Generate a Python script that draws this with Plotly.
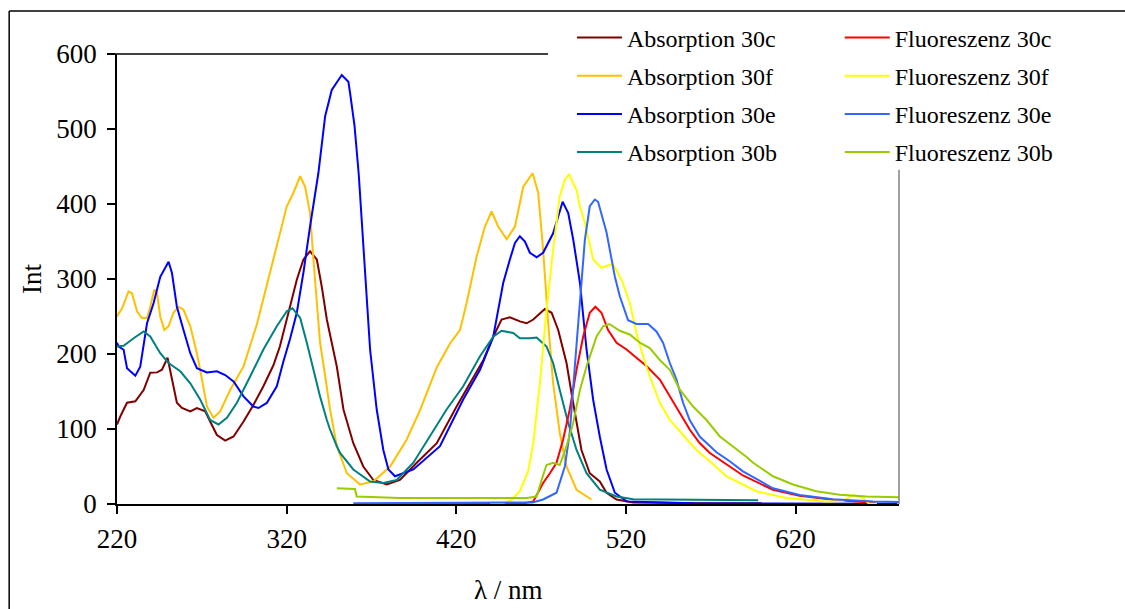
import plotly.graph_objects as go

# ---------------- data ----------------
abs_30c_nm = [220, 222, 225.9, 230.8, 235.7, 239.6, 243.6, 246.5, 249.8, 252.4, 255.3, 258.3, 263.2, 267.1,
              272, 274.9, 278.9, 283.8, 288.7, 294.6, 300.4, 306.3, 312.2, 316, 320.1, 326, 329.9, 333.8,
              337.8, 340.7, 343.7, 346.5, 349.6, 353.5, 359.3, 365.2, 371.1, 379, 386.8, 396.7, 408.5,
              420.2, 428.1, 436, 441.8, 446.7, 451.6, 457.5, 461.5, 465.4, 472.2, 476.2, 480.1, 485,
              488.9, 493.8, 498.7, 504.6, 508.6, 514.5, 524.3, 560, 600]
abs_30c_int = [106, 117, 135, 137, 152, 175, 175.5, 179, 195, 166, 135, 128, 123.5, 128,
               123.5, 110, 92, 84.5, 90, 110, 132, 157, 185, 210, 245, 299, 326, 337,
               326, 290, 246, 215, 183, 126, 81, 50, 32, 26, 32, 55, 81,
               130, 161, 192, 223, 246, 249, 243.5, 241, 246, 260, 255, 232, 188,
               135, 72, 41, 30, 15, 6, 2, 1, 1]

abs_30f_nm = [220, 223, 226.8, 228.8, 231.8, 234.7, 237.7, 239.6, 242, 243.6, 245.5, 247.9, 250.4, 253.3,
              256.3, 259.2, 263.2, 267.1, 270.1, 273, 276.9, 280.8, 286.7, 294.6, 302.5, 307.3, 312.2,
              316.2, 320.1, 324, 328, 330.9, 333.8, 335.8, 337.8, 339.7, 341.3, 345.6, 349.6, 355.5,
              363.3, 371.1, 381, 386.8, 390.8, 398.6, 408.5, 416.3, 422.2, 426.1, 432, 436.9, 440.8,
              444.7, 449.7, 454.6, 459.5, 465, 468.3, 471.2, 474.2, 477.1, 481, 485, 490.9, 499.7]
abs_30f_int = [250, 261, 283.5, 281, 257, 248, 248, 263, 286, 281, 250, 232, 237, 255,
               263, 259, 237, 201, 166, 130, 115, 123.5, 152, 183.5, 240, 282, 326,
               361, 397, 415, 437, 423, 388, 326, 272, 215, 192, 126, 77, 41,
               26, 30, 50, 72, 86, 125, 182, 214, 232, 268, 330, 370, 390,
               370, 353, 370, 423, 441, 415, 339, 241, 161, 95, 50, 19, 6]

abs_30e_nm = [220, 221, 223.9, 225.9, 230.8, 233.7, 237.7, 241.6, 245.5, 250.4, 252.4, 255.3, 259.2,
              263.2, 267.1, 273, 278.9, 283.8, 288.7, 294.6, 300.4, 303.4, 308.3, 314.2, 318.1, 322,
              326, 330, 333.8, 338.7, 342.7, 346.6, 352.5, 356.4, 357.4, 360, 362.5, 365.2, 367.2,
              369.2, 373.1, 377, 380, 383.9, 394.7, 410.4, 424, 434, 441.8, 445.7, 447.7, 451.6,
              454.6, 457.5, 460.5, 463.4, 467.4, 471.2, 477.1, 482.7, 486, 489, 492.9, 496.8, 500.7,
              504.6, 508.6, 513.5, 520.4, 560, 600, 680]
abs_30e_int = [215, 210, 205.7, 181, 171, 183, 241, 268, 303, 323, 308, 263, 232,
               201, 181, 175.5, 177, 172, 163.5, 143.5, 130, 128, 134.7, 157, 190, 220,
               255, 310, 370, 441, 517, 552, 572, 563, 548, 505, 440, 340, 265,
               206, 126, 72, 46, 37, 46, 77, 139, 179, 223, 272, 295, 326,
               348, 357, 350, 335, 329, 335, 361, 403, 388, 352, 295, 206, 139,
               90, 46, 15, 3.5, 1, 1, 0.5]

abs_30b_nm = [220, 223.9, 229.8, 235.7, 239.6, 245.5, 250.4, 257.3, 263.2, 269.1, 274.9, 279.8, 284.8,
              290.7, 298.5, 306.3, 314.2, 320.1, 323.4, 328, 331.9, 335.8, 339.7, 343.7, 345.6, 349.6,
              351.5, 359.3, 369.2, 377, 384.9, 394.7, 404.5, 414.3, 424.1, 434, 441.8, 446.7, 453.6,
              457.5, 463.4, 467.4, 473.2, 477.1, 481, 486, 490.9, 496.8, 504.6, 514.5, 524.3, 560, 598]
abs_30b_int = [210, 211, 221, 230, 223.5, 201, 188, 177, 161, 139, 112, 106, 115,
               135, 170, 206, 237, 257, 261, 248, 215, 179, 143.5, 112, 99, 77,
               68, 46, 30, 28, 32, 55, 90, 126, 157, 197, 223, 231, 228,
               221, 221, 222, 210, 188, 152, 108, 72, 41, 19, 10, 6.5, 6, 5]

fl_30c_nm = [400, 460, 465.4, 471.2, 475.2, 479.1, 483, 486.9, 490.9, 494.8, 498.7, 502, 505.6, 509.5,
             514.5, 520.4, 526.2, 532.1, 540, 545.9, 551.8, 557.7, 563.6, 569.5, 573.4, 580, 589, 606.7,
             622.4, 642, 663.6, 668]
fl_30c_int = [0.5, 1, 3.5, 28, 41, 55, 86, 126, 179, 223, 255, 263, 255, 232,
              215, 206, 195, 184, 166, 143.5, 121, 99, 81, 68, 62, 52, 38, 19,
              11, 5.7, 2, 0]

fl_30f_nm = [440, 447, 451.6, 457.5, 462.4, 465.4, 469.3, 473.2, 477.1, 481, 484, 486.5, 488.9, 490.9,
             492.9, 495.8, 500.7, 505.6, 510.5, 512.5, 514.4, 517.4, 522.3, 526.2, 530.1, 534.1, 540,
             545.9, 553.7, 561.6, 569.5, 575.4, 579.2, 596.9, 614.6, 638.1, 648, 653.8, 659.7, 663, 668]
fl_30f_int = [0.5, 1, 4, 17, 44, 81, 161, 259, 339, 410, 432, 440, 428, 419,
              397, 375, 326, 315, 319, 319, 312, 299, 268, 228, 197, 170, 135,
              112, 92, 72, 57, 45, 37, 17, 8, 3.5, 4, 12, 8, 1, 0]

fl_30e_nm = [359.3, 400, 440, 465, 471.2, 479.1, 484, 486.9, 489.9, 492.9, 495.8, 498.7, 501.7, 503.6,
             506.6, 508.6, 510.5, 513.5, 516.4, 521.3, 526.2, 533.1, 538, 541.9, 545.9, 549.8, 553.7,
             557.6, 563.5, 573.4, 581.2, 589, 606.7, 622.4, 642, 665.8, 681]
fl_30e_int = [1, 1.5, 1.5, 2, 6, 15, 50, 95, 183.5, 272, 352, 397, 406, 403,
              379, 362, 339, 303, 277, 245, 240, 240, 230, 215, 188, 166, 135,
              112, 90, 69, 57, 43.5, 21, 12, 6.5, 3.5, 2.7]

fl_30b_nm = [349.6, 360.3, 361.3, 373.1, 386.8, 461.5, 467.4, 470.3, 473.2, 477.1, 481, 485, 488.9,
             492.9, 496.8, 502.7, 506.6, 510.3, 516.4, 522.3, 528.2, 534.1, 540, 545.9, 551.8, 559.6,
             567.5, 575.4, 583.2, 591, 595, 606.7, 618.5, 632.2, 646, 661.7, 681]
fl_30b_int = [21, 20, 10, 9, 8, 8, 10, 32, 52, 55, 52, 77, 108,
              152, 183.5, 223.5, 237, 240, 231, 226, 215, 208, 192, 179, 152.5, 130,
              112, 90, 77, 63, 55, 37, 26, 17, 12.4, 10, 9]

x_ticks = [220, 320, 420, 520, 620]
y_ticks = [0, 100, 200, 300, 400, 500, 600]
x_title = "λ / nm"
y_title = "Int"

series = [
    ("Absorption 30c", abs_30c_nm, abs_30c_int, "#800000", "legend"),
    ("Absorption 30f", abs_30f_nm, abs_30f_int, "#FFC000", "legend"),
    ("Absorption 30e", abs_30e_nm, abs_30e_int, "#0000FF", "legend"),
    ("Absorption 30b", abs_30b_nm, abs_30b_int, "#008080", "legend"),
    ("Fluoreszenz 30c", fl_30c_nm, fl_30c_int, "#FF0000", "legend2"),
    ("Fluoreszenz 30f", fl_30f_nm, fl_30f_int, "#FFFF00", "legend2"),
    ("Fluoreszenz 30e", fl_30e_nm, fl_30e_int, "#3366FF", "legend2"),
    ("Fluoreszenz 30b", fl_30b_nm, fl_30b_int, "#99CC00", "legend2"),
]

FONT = "Liberation Serif, Times New Roman, serif"
FS_AX = 27
FS_LEG = 24

fig = go.Figure()
for name, xs, ys, col, leg in series:
    fig.add_trace(go.Scatter(x=xs, y=ys, mode="lines", name=name, legend=leg,
                             legendgroup=name,
                             line=dict(color=col, width=2)))

# page geometry (body margin removed by post_script, so figure starts at page 0,0)
FIG_W, FIG_H = 1125, 609
L, R, T, B = 116.7, 899.3, 54.3, 504.3          # plot area in page pixels
W, H = R - L, B - T
def px(xp):
    return (xp - L) / W
def py(yp):
    return (B - yp) / H

shapes = [
    # plot area border: top black, right grey
    dict(type="line", xref="paper", yref="paper", x0=px(108), x1=1, y0=1, y1=1,
         line=dict(color="black", width=1.5), layer="above"),
    dict(type="line", xref="paper", yref="paper", x0=1, x1=1, y0=0, y1=1,
         line=dict(color="#808080", width=1.5), layer="above"),
    # legend white box
    dict(type="rect", xref="paper", yref="paper", x0=px(548), x1=px(1124), y0=py(170), y1=py(18),
         fillcolor="white", line=dict(width=0), layer="above"),
    # outer chart frame (only top and left edges are inside the picture)
    dict(type="line", xref="paper", yref="paper", x0=px(8.8), x1=px(1130), y0=py(11.3), y1=py(11.3),
         line=dict(color="black", width=1.5), layer="above"),
    dict(type="line", xref="paper", yref="paper", x0=px(8.8), x1=px(8.8), y0=py(11.3), y1=py(615),
         line=dict(color="black", width=1.5), layer="above"),
]

annotations = [
    dict(text=x_title, xref="paper", yref="paper", x=px(508), y=py(590), xanchor="center",
         yanchor="middle", showarrow=False, font=dict(family=FONT, size=FS_AX, color="black")),
    dict(text=y_title, xref="paper", yref="paper", x=px(31), y=py(279), xanchor="center",
         yanchor="middle", textangle=-90, showarrow=False,
         font=dict(family=FONT, size=FS_AX, color="black")),
]

fig.update_layout(
    width=FIG_W, height=FIG_H,
    margin=dict(l=L, r=FIG_W - R, t=T, b=FIG_H - B, pad=0, autoexpand=False),
    paper_bgcolor="white", plot_bgcolor="white",
    font=dict(family=FONT, size=FS_AX, color="black"),
    shapes=shapes,
    annotations=annotations,
    showlegend=True,
    legend=dict(x=px(572), y=py(15.7), xanchor="left", yanchor="top", itemwidth=45,
                bgcolor="rgba(0,0,0,0)", borderwidth=0, tracegroupgap=4,
                font=dict(family=FONT, size=FS_LEG, color="black")),
    legend2=dict(x=px(840), y=py(15.7), xanchor="left", yanchor="top", itemwidth=45,
                 bgcolor="rgba(0,0,0,0)", borderwidth=0, tracegroupgap=4,
                 font=dict(family=FONT, size=FS_LEG, color="black")),
    xaxis=dict(range=[220, 681], tickvals=x_ticks, ticktext=[str(v) for v in x_ticks],
               ticks="outside", ticklen=8, tickwidth=1.5, tickcolor="black",
               ticklabelstandoff=2, automargin=False,
               showline=True, linecolor="black", linewidth=1.5,
               showgrid=False, zeroline=False,
               tickfont=dict(family=FONT, size=FS_AX, color="black")),
    yaxis=dict(range=[0, 600], tickvals=y_ticks, ticktext=[str(v) for v in y_ticks],
               ticks="outside", ticklen=8, tickwidth=1.5, tickcolor="black",
               ticklabelstandoff=5, automargin=False,
               showline=True, linecolor="black", linewidth=1.5,
               showgrid=False, zeroline=False,
               tickfont=dict(family=FONT, size=FS_AX, color="black")),
)

fig.write_html("out.html",
               config={"displayModeBar": False},
               post_script="document.body.style.margin='0px';document.body.style.padding='0px';")
